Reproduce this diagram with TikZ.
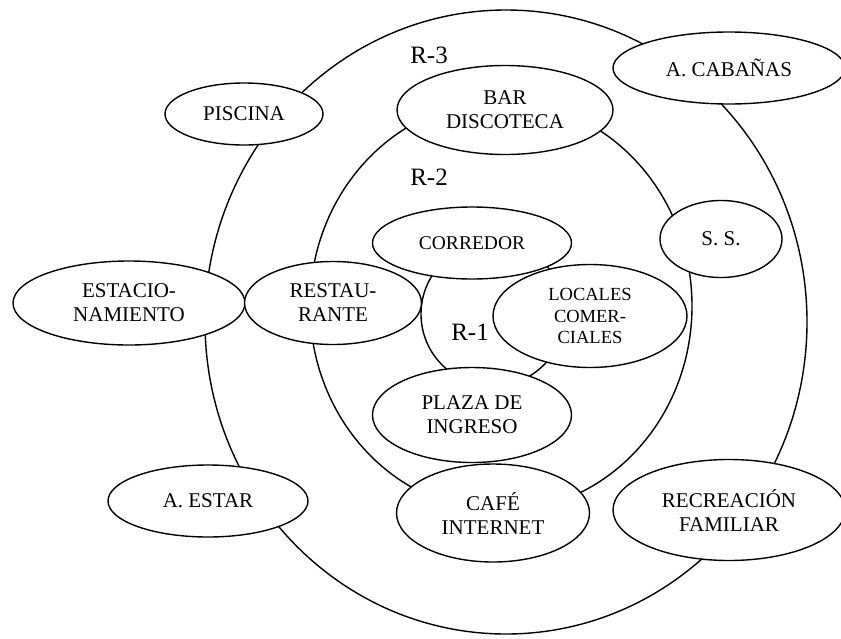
\documentclass[tikz,border=0pt]{standalone}
\usepackage{fontspec}
\setmainfont{Liberation Serif}
\usetikzlibrary{shapes.geometric}
\begin{document}
\begin{tikzpicture}[x=1pt,y=-1pt,
  ring/.style={draw, line width=1.4pt},
  zone/.style={ellipse, draw, fill=white, line width=1.4pt, inner sep=0pt, align=center,
    font=\fontsize{21}{24}\selectfont},
  smallzone/.style={zone, font=\fontsize{18.5}{21.5}\selectfont},
  rlabel/.style={inner sep=0pt, font=\fontsize{25}{28}\selectfont}]
\useasboundingbox (0,0) rectangle (841,638);
\clip (0,0) rectangle (841,638);
% rings
\draw[ring] (506,322) ellipse [x radius=301, y radius=312];
\draw[ring] (501,306) ellipse [x radius=191, y radius=205];
\draw[ring] (493,314) circle [radius=72];
% labels
\node[rlabel] (r3) at (429,55) {R-3};
\node[rlabel] (r2) at (429,177) {R-2};
\node[rlabel] (r1) at (470,332) {R-1};
% zones
\node[zone, minimum width=158, minimum height=62] (piscina) at (244,114) {PISCINA};
\node[zone, minimum width=232, minimum height=84] (estac) at (129,303) {ESTACIO-\\NAMIENTO};
\node[zone, minimum width=177, minimum height=83] (rest) at (333,303) {RESTAU-\\RANTE};
\node[zone, minimum width=200, minimum height=72] (estar) at (208,501) {A. ESTAR};
\node[zone, minimum width=216, minimum height=89] (bar) at (505,110) {BAR\\DISCOTECA};
\node[zone, minimum width=232, minimum height=72] (cab) at (729,68) {A. CABAÑAS};
\node[zone, minimum width=122, minimum height=77] (ss) at (721,239) {S. S.};
\node[smallzone, minimum width=194, minimum height=103] (locales) at (590,316) {LOCALES\\COMER-\\CIALES};
\node[zone, minimum width=199, minimum height=72] (corredor) at (472,243) {\fontsize{19.5}{22}\selectfont CORREDOR};
\node[zone, minimum width=199, minimum height=95] (plaza) at (472,415) {PLAZA DE\\INGRESO};
\node[zone, minimum width=193, minimum height=98] (cafe) at (493,513) {CAFÉ\\INTERNET};
\node[zone, minimum width=232, minimum height=101] (recre) at (729,510) {RECREACIÓN\\FAMILIAR};
\end{tikzpicture}
\end{document}
